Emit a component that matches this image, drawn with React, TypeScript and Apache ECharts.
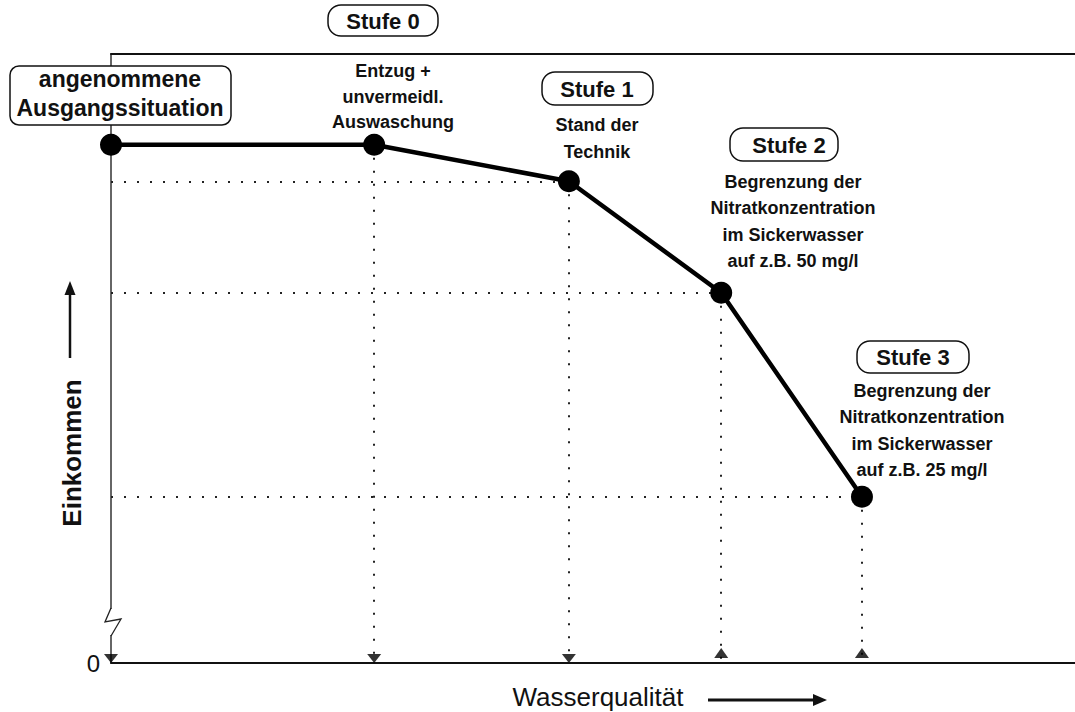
import React, { useEffect, useRef } from "react";
import * as echarts from "echarts";

// ---- data ----
const waterQuality = [0, 27.3, 47.5, 63.3, 77.9];
const income = [85.1, 85.1, 79.1, 60.8, 27.3];
const arrowDown = [0, 27.3, 47.5];
const arrowUp = [63.3, 77.9];
const yTickLabels = ["0"];
const startLabel = ["angenommene", "Ausgangssituation"];
const stageTitles = ["Stufe 0", "Stufe 1", "Stufe 2", "Stufe 3"];
const stageNotes = [
  ["Entzug +", "unvermeidl.", "Auswaschung"],
  ["Stand der", "Technik"],
  ["Begrenzung der", "Nitratkonzentration", "im Sickerwasser", "auf z.B. 50 mg/l"],
  ["Begrenzung der", "Nitratkonzentration", "im Sickerwasser", "auf z.B. 25 mg/l"],
];
const xTitle = "Wasserqualität";
const yTitle = "Einkommen";

// ---- layout (annotation placement) ----
const FONT = "'Liberation Sans', Arial, Helvetica, sans-serif";
const startBox = { x: 10, y: 66, w: 221, h: 59, cx: 120, lines: [79, 108] };
const titleBoxes = [
  { x: 328, y: 5, w: 110, h: 31, cx: 383, cy: 21 },
  { x: 542, y: 72, w: 111, h: 33, cx: 597, cy: 89 },
  { x: 730, y: 128, w: 108, h: 33, cx: 789, cy: 145 },
  { x: 857, y: 341, w: 112, h: 32, cx: 913, cy: 357 },
];
const noteLayout = [
  { cx: 393, y0: 71, dy: 25.5 },
  { cx: 597, y0: 125, dy: 27 },
  { cx: 793, y0: 182, dy: 26.3 },
  { cx: 922, y0: 391, dy: 26.3 },
];

function txt(text: string, x: number, y: number, size: number, weight: string, extra: any = {}) {
  return {
    type: "text",
    x,
    y,
    z: 110,
    ...extra,
    style: {
      text,
      fontSize: size,
      fontWeight: weight,
      fontFamily: FONT,
      fill: "#111",
      align: "center",
      verticalAlign: "middle",
    },
  };
}

export default function App() {
  const ref = useRef<HTMLDivElement>(null);
  useEffect(() => {
    if (!ref.current) return;
    const chart = echarts.init(ref.current, null, { renderer: "svg" });

    const graphics: any[] = [];
    // start box
    graphics.push({
      type: "rect",
      z: 105,
      shape: { x: startBox.x, y: startBox.y, width: startBox.w, height: startBox.h, r: 9 },
      style: { fill: "#fff", stroke: "#111", lineWidth: 1.5 },
    });
    startLabel.forEach((t, i) => graphics.push(txt(t, startBox.cx, startBox.lines[i], 23, "bold")));
    // stage boxes
    stageTitles.forEach((t, i) => {
      const b = titleBoxes[i];
      graphics.push({
        type: "rect",
        z: 105,
        shape: { x: b.x, y: b.y, width: b.w, height: b.h, r: 13 },
        style: { fill: "#fff", stroke: "#111", lineWidth: 1.5 },
      });
      graphics.push(txt(t, b.cx, b.cy, 22, "bold"));
      const n = noteLayout[i];
      stageNotes[i].forEach((line, j) => graphics.push(txt(line, n.cx, n.y0 + j * n.dy, 18, "bold")));
    });
    // axis break zigzag
    graphics.push({ type: "rect", z: 100, shape: { x: 108, y: 609, width: 6, height: 26 }, style: { fill: "#fff" } });
    graphics.push({
      type: "polyline",
      z: 101,
      shape: { points: [[111, 608], [105, 622], [121, 619], [111, 636]] },
      style: { stroke: "#222", lineWidth: 1.3, fill: null },
    });
    // y title + arrow
    graphics.push(txt(yTitle, 72, 453, 26, "bold", { rotation: Math.PI / 2 }));
    graphics.push({ type: "line", z: 100, shape: { x1: 70, y1: 358, x2: 70, y2: 292 }, style: { stroke: "#111", lineWidth: 2.5 } });
    graphics.push({ type: "polygon", z: 100, shape: { points: [[70, 281], [64.5, 295], [75.5, 295]] }, style: { fill: "#111" } });
    // x title + arrow
    graphics.push(txt(xTitle, 598, 697, 26, "normal"));
    graphics.push({ type: "line", z: 100, shape: { x1: 708, y1: 700, x2: 815, y2: 700 }, style: { stroke: "#111", lineWidth: 3 } });
    graphics.push({ type: "polygon", z: 100, shape: { points: [[827, 700], [813, 694], [813, 706]] }, style: { fill: "#111" } });

    const pts = waterQuality.map((x, i) => [x, income[i]]);
    const hLines = pts.slice(2).map((p) => [{ coord: [0, p[1]] }, { coord: [p[0], p[1]] }]);
    const vLines = pts.slice(1).map((p) => [{ coord: [p[0], p[1]] }, { coord: [p[0], 0] }]);

    chart.setOption({
      animation: false,
      backgroundColor: "#fff",
      grid: { left: 111, right: 0, top: 54, bottom: 49 },
      xAxis: [
        {
          type: "value",
          min: 0,
          max: 100,
          axisLine: { show: true, lineStyle: { color: "#111", width: 2 } },
          axisTick: { show: false },
          axisLabel: { show: false },
          splitLine: { show: false },
        },
        {
          type: "value",
          position: "top",
          min: 0,
          max: 100,
          axisLine: { show: true, lineStyle: { color: "#111", width: 2 } },
          axisTick: { show: false },
          axisLabel: { show: false },
          splitLine: { show: false },
        },
      ],
      yAxis: {
        type: "value",
        min: 0,
        max: 100,
        interval: 100,
        axisLine: { show: true, lineStyle: { color: "#333", width: 1.5 } },
        axisTick: { show: false },
        splitLine: { show: false },
        axisLabel: {
          show: true,
          formatter: (v: number) => (v === 0 ? yTickLabels[0] : ""),
          fontSize: 24,
          fontFamily: FONT,
          color: "#111",
          margin: 11,
        },
      },
      series: [
        {
          type: "line",
          data: pts,
          clip: false,
          symbol: "circle",
          symbolSize: 22,
          itemStyle: { color: "#000" },
          lineStyle: { color: "#000", width: 4.5 },
          z: 5,
          markLine: {
            silent: true,
            symbol: ["none", "none"],
            label: { show: false },
            lineStyle: { type: [2, 11], color: "#222", width: 2 },
            data: [...hLines, ...vLines],
            z: 2,
          },
        },
        {
          type: "scatter",
          clip: false,
          data: arrowDown.map((x) => [x, 0]),
          symbol: "path://M0,0L14,0L7,9Z",
          symbolSize: [14, 9],
          symbolOffset: [0, -4.5],
          itemStyle: { color: "#000" },
          z: 6,
        },
        {
          type: "scatter",
          clip: false,
          data: arrowUp.map((x) => [x, 0]),
          symbol: "path://M7,0L14,10L0,10Z",
          symbolSize: [14, 10],
          symbolOffset: [0, -10],
          itemStyle: { color: "#000" },
          z: 6,
        },
      ],
      graphic: graphics,
    });
    return () => chart.dispose();
  }, []);
  return <div ref={ref} style={{ position: "fixed", left: 0, top: 0, width: 1075, height: 712 }} />;
}
